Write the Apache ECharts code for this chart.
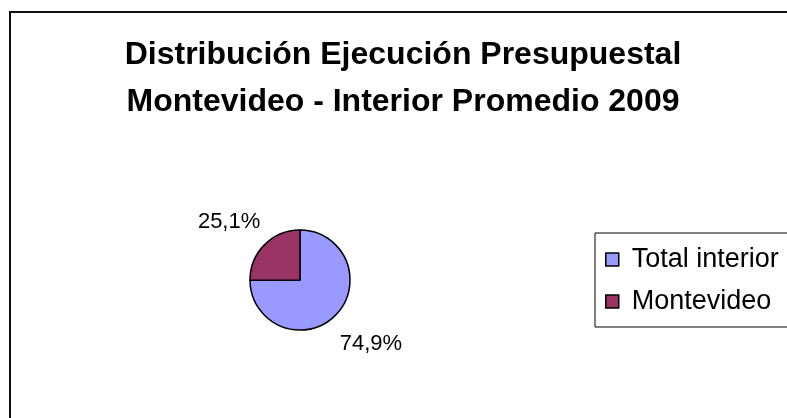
<!DOCTYPE html>
<html>
<head>
<meta charset="utf-8">
<script src="https://cdn.jsdelivr.net/npm/echarts@6/dist/echarts.min.js"></script>
<style>
  html, body { margin: 0; padding: 0; background: #fff; }
  #chart { width: 787px; height: 418px; }
</style>
</head>
<body>
<div id="chart"></div>
<script>
  // datos del grafico
  var categorias = ['Total interior', 'Montevideo'];
  var valores = [74.9, 25.1];
  var colores = ['#9999FF', '#993366'];
  // ajuste de las etiquetas [dx, dy]
  var etiquetaDesp = [[-5, 24], [5, -19]];

  var fuente = '"Liberation Sans", Arial, sans-serif';
  var myChart = echarts.init(document.getElementById('chart'));

  myChart.setOption({
    animation: false,
    title: {
      text: 'Distribución Ejecución Presupuestal\nMontevideo - Interior Promedio 2009',
      left: 403,
      top: 32,
      padding: 0,
      textAlign: 'center',
      textStyle: {
        fontFamily: fuente,
        fontSize: 32,
        fontWeight: 'bold',
        lineHeight: 47,
        color: '#000'
      }
    },
    legend: {
      orient: 'vertical',
      left: 595,
      top: 233,
      padding: [13, 30, 12, 10],
      borderColor: '#000',
      borderWidth: 1,
      itemWidth: 13,
      itemHeight: 13,
      itemGap: 15,
      icon: 'rect',
      itemStyle: { borderColor: '#000', borderWidth: 1.5 },
      textStyle: {
        fontFamily: fuente,
        fontSize: 27,
        color: '#000',
        padding: [0, 0, 0, 8]
      },
      data: categorias
    },
    graphic: [{
      type: 'rect',
      shape: { x: 10, y: 12, width: 900, height: 500 },
      style: { fill: 'none', stroke: '#111', lineWidth: 2 },
      silent: true
    }],
    series: [{
      type: 'pie',
      center: [300, 280],
      radius: 50,
      startAngle: 90,
      clockwise: true,
      itemStyle: { borderColor: '#000', borderWidth: 1.5 },
      label: {
        show: true,
        position: 'outside',
        fontFamily: fuente,
        fontSize: 22,
        color: '#000',
        formatter: function (p) {
          return p.value.toFixed(1).replace('.', ',') + '%';
        }
      },
      labelLine: { show: false, length: 6, length2: 0 },
      labelLayout: function (params) {
        var d = etiquetaDesp[params.dataIndex];
        return { dx: d[0], dy: d[1] };
      },
      emphasis: { disabled: true },
      data: categorias.map(function (c, i) {
        return { name: c, value: valores[i], itemStyle: { color: colores[i] } };
      })
    }]
  });
</script>
</body>
</html>
